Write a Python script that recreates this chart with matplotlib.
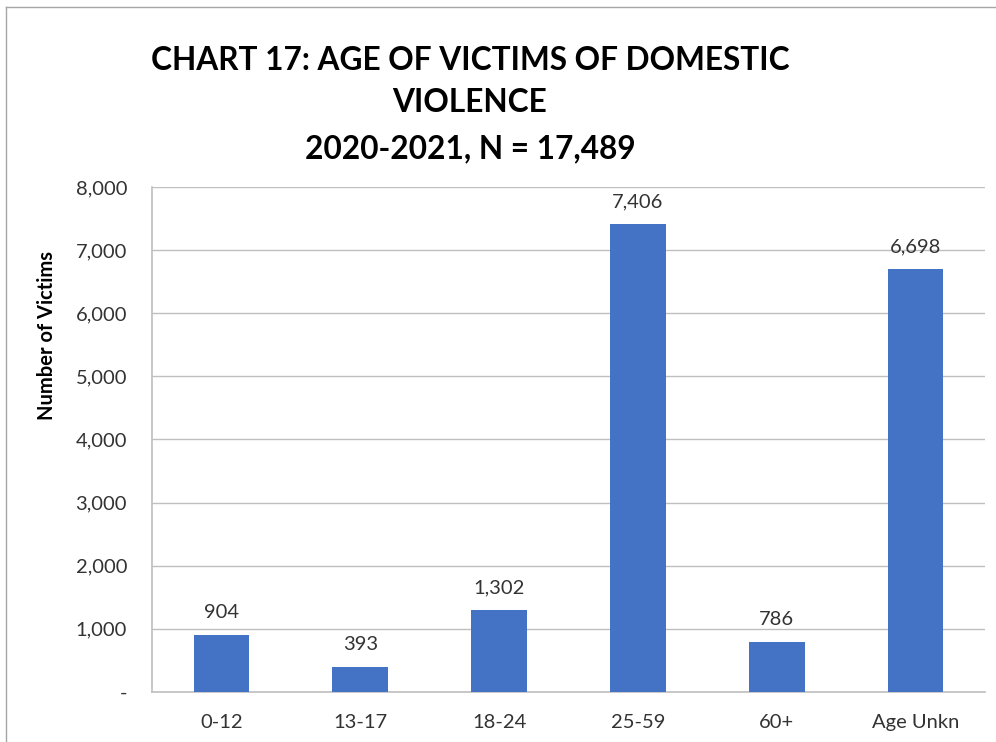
import matplotlib
matplotlib.use("Agg")
import matplotlib.pyplot as plt
from matplotlib.ticker import FuncFormatter
from matplotlib.lines import Line2D

plt.rcParams['font.family'] = ['Lato', 'DejaVu Sans']

# data
age_groups = ['0-12', '13-17', '18-24', '25-59', '60+', 'Age Unkn']
victims = [904, 393, 1302, 7406, 786, 6698]
y_ticks = [0, 1000, 2000, 3000, 4000, 5000, 6000, 7000, 8000]

W, H = 996, 742
fig = plt.figure(figsize=(W / 100, H / 100), dpi=100)
ax = fig.add_axes([152 / W, 1 - 692 / H, (985 - 152) / W, (692 - 187) / H])

bar_color = '#4472c4'
grid_color = '#bfbfbf'
text_color = '#333333'

x = range(len(age_groups))
bars = ax.bar(x, victims, width=0.4, color=bar_color, zorder=3)

for rect, v in zip(bars, victims):
    ax.annotate(f'{v:,}', (rect.get_x() + rect.get_width() / 2, v),
                xytext=(0, 10), textcoords='offset points',
                ha='center', va='bottom', fontsize=14.5, color=text_color)

ax.set_xlim(-0.5, len(age_groups) - 0.5)
ax.set_ylim(0, 8000)
ax.set_yticks(y_ticks)
ax.yaxis.set_major_formatter(FuncFormatter(lambda v, p: '-' if v == 0 else f'{int(v):,}'))
ax.set_xticks(list(x))
ax.set_xticklabels(age_groups)
ax.tick_params(axis='both', length=0, labelsize=14.5, labelcolor=text_color)
ax.tick_params(axis='x', pad=16)
ax.tick_params(axis='y', pad=18)

ax.grid(axis='y', color=grid_color, linewidth=1, zorder=0)
for s in ['top', 'right']:
    ax.spines[s].set_visible(False)
for s in ['left', 'bottom']:
    ax.spines[s].set_color(grid_color)
    ax.spines[s].set_linewidth(1.2)

fig.text(47 / W, 1 - 335 / H, 'Number of Victims', rotation=90,
         ha='center', va='center', fontsize=14.5, fontweight='bold', color='black')

title_lines = ['CHART 17: AGE OF VICTIMS OF DOMESTIC', 'VIOLENCE', '2020-2021, N = 17,489']
for line, yy in zip(title_lines, [60, 102, 149]):
    fig.text(470 / W, 1 - yy / H, line, ha='center', va='center',
             fontsize=22.8, fontweight='bold', color='black')

# outer chart border (left and top edges visible)
fig.add_artist(Line2D([5.5 / W, 5.5 / W], [0, 1 - 7 / H], transform=fig.transFigure,
                      color='#a6a6a6', linewidth=1))
fig.add_artist(Line2D([5.5 / W, 1], [1 - 7 / H, 1 - 7 / H], transform=fig.transFigure,
                      color='#a6a6a6', linewidth=1))

fig.savefig('out.png', dpi=100)
